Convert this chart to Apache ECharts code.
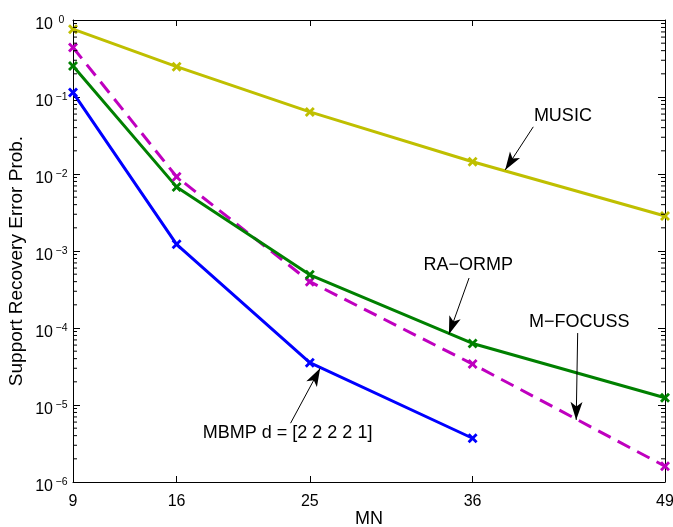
<!DOCTYPE html>
<html><head><meta charset="utf-8">
<script src="https://cdn.jsdelivr.net/npm/echarts@6/dist/echarts.min.js"></script>
<style>html,body{margin:0;padding:0;background:#fff}#c{width:673px;height:527px}</style>
</head><body><div id="c"></div>
<script>
// ---- data ----
const mn = [9, 16, 25, 36, 49];
const xTicks = [9, 16, 25, 36, 49];
const music   = [0.76, 0.248, 0.064, 0.0144, 0.00285];
const mfocuss = [0.44, 0.0092, 4.0e-4, 3.4e-5, 1.6e-6];
const raormp  = [0.253, 0.0068, 4.9e-4, 6.3e-5, 1.24e-5];
const mbmp    = [0.114, 1.22e-3, 3.55e-5, 3.7e-6];
const seriesNames = ['MUSIC', 'M\u2212FOCUSS', 'RA\u2212ORMP', 'MBMP d = [2 2 2 2 1]'];
const yTitle = 'Support Recovery Error Prob.';
const xTitle = 'MN';
// annotation: label position, arrow start, arrow tip (data coordinates)
const annText  = [[42.1, 0.0567], [43.2, 1.2e-4], [35.7, 6.6e-4], [23.5, 4.3e-6]];
const annStart = [[40.1, 0.041], [43.1, 8.6e-5], [35.76, 4.46e-4], [23.7, 5.8e-6]];
const annTip   = [[38.2, 0.0113], [43.0, 6.4e-6], [34.4, 8.3e-5], [25.7, 3.0e-5]];

const FONT = 'Liberation Sans, Arial, Helvetica, sans-serif';
const X_SYM = 'path://M0,2 L2,0 L5,3 L8,0 L10,2 L7,5 L10,8 L8,10 L5,7 L2,10 L0,8 L3,5 Z';

const minorVals = [];
for (let e = -6; e < 0; e++) for (let k = 2; k <= 9; k++) minorVals.push([9, k * Math.pow(10, e)]);

function mkLine(name, vals, color, dashed) {
  return {
    name, type: 'line', data: vals.map((v, i) => [mn[i], v]),
    symbol: X_SYM, symbolSize: 10, clip: false,
    lineStyle: { color, width: 3, type: dashed ? [14, 8] : 'solid' },
    itemStyle: { color },
    animation: false, z: 3
  };
}

const series = [
  mkLine(seriesNames[0], music, '#BFBF00'),
  mkLine(seriesNames[1], mfocuss, '#BF00BF', true),
  mkLine(seriesNames[2], raormp, '#008000'),
  mkLine(seriesNames[3], mbmp, '#0000FF'),
];

// annotations attached to a helper series
series.push({
  type: 'line', data: [], silent: true, animation: false, z: 5,
  markLine: {
    silent: true, animation: false, symbol: ['none', 'arrow'],
    lineStyle: { color: '#000', width: 1, type: 'solid' }, label: { show: false },
    itemStyle: { color: '#000' },
    data: annStart.map((s, i) => [
      { coord: s, symbol: 'none' },
      { coord: annTip[i], symbol: 'arrow', symbolSize: [9, 18] }
    ])
  },
  markPoint: {
    silent: true, animation: false, symbol: 'rect', symbolSize: 1,
    itemStyle: { color: 'rgba(0,0,0,0)' },
    label: { show: true, position: 'inside', formatter: '{b}', color: '#000', fontSize: 18, fontFamily: FONT },
    data: annText.map((p, i) => ({ name: seriesNames[i], coord: p }))
  }
});

// minor ticks on log axes
series.push({
  type: 'custom', data: minorVals, encode: { x: 0, y: 1 }, silent: true, clip: false, animation: false, z: 4,
  renderItem: function (params, api) {
    const v = api.value(1);
    const a = api.coord([9, v]);
    const b = api.coord([49, v]);
    return { type: 'group', children: [
      { type: 'line', shape: { x1: a[0], y1: a[1], x2: a[0] + 4, y2: a[1] }, style: { stroke: '#000', lineWidth: 1 } },
      { type: 'line', shape: { x1: b[0], y1: b[1], x2: b[0] - 4, y2: b[1] }, style: { stroke: '#000', lineWidth: 1 } }
    ]};
  }
});

const axLine = { show: true, lineStyle: { color: '#000', width: 1 } };

const option = {
  backgroundColor: '#fff',
  animation: false,
  grid: { left: 73, right: 8, top: 20, bottom: 45, containLabel: false, outerBoundsMode: 'none' },
  graphic: [{
    type: 'text', x: 17, y: 261, rotation: Math.PI / 2, silent: true,
    style: { text: yTitle, fontSize: 19, fontFamily: FONT, fill: '#000', align: 'center', verticalAlign: 'middle' }
  }],
  xAxis: [
    { type: 'value', min: 9, max: 49, position: 'bottom', axisLine: axLine,
      axisTick: { inside: true, length: 6, customValues: xTicks, lineStyle: { color: '#000' } },
      axisLabel: { customValues: xTicks, fontSize: 16, color: '#000', fontFamily: FONT, margin: 12 },
      splitLine: { show: false },
      name: xTitle, nameLocation: 'middle', nameGap: 28, nameMoveOverlap: false,
      nameTextStyle: { fontSize: 18, color: '#000', fontFamily: FONT } },
    { type: 'value', min: 9, max: 49, position: 'top', axisLine: axLine,
      axisTick: { inside: true, length: 6, customValues: xTicks, lineStyle: { color: '#000' } },
      axisLabel: { show: false }, splitLine: { show: false } }
  ],
  yAxis: [
    { type: 'log', logBase: 10, min: 1e-6, max: 1, splitNumber: 6, position: 'left', axisLine: axLine,
      axisTick: { inside: true, length: 7, lineStyle: { color: '#000' } },
      axisLabel: { color: '#000', margin: 4, padding: [10, 0, 0, 0],
        formatter: function (v) {
          const e = Math.round(Math.log10(v));
          return '{b|10}{s|' + (e < 0 ? '\u2212' + (-e) : e) + '}';
        },
        rich: {
          b: { fontSize: 16, fontFamily: FONT, color: '#000' },
          s: { fontSize: 10.5, fontFamily: FONT, color: '#000', width: 15, align: 'left', padding: [0, 0, 10, 1] }
        }
      },
      splitLine: { show: false }, minorTick: { show: false } },
    { type: 'log', logBase: 10, min: 1e-6, max: 1, splitNumber: 6, position: 'right', axisLine: axLine,
      axisTick: { inside: true, length: 7, lineStyle: { color: '#000' } },
      axisLabel: { show: false }, splitLine: { show: false } }
  ],
  series
};

const chart = echarts.init(document.getElementById('c'), null, { renderer: 'canvas' });
chart.setOption(option);
</script>
</body></html>
